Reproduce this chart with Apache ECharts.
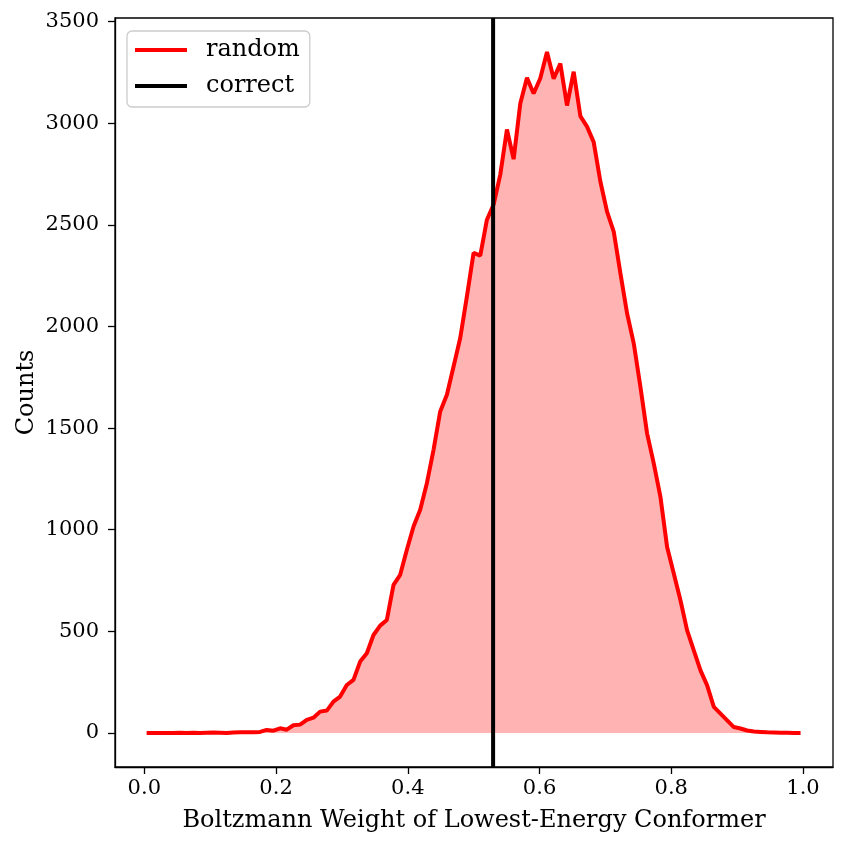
<!DOCTYPE html>
<html>
<head>
<meta charset="utf-8">
<script src="https://cdn.jsdelivr.net/npm/echarts@6/dist/echarts.min.js"></script>
<style>
html,body{margin:0;padding:0;background:#fff;}
#chart{width:846px;height:848px;}
</style>
</head>
<body>
<div id="chart"></div>
<script>
// Histogram bin layout (bin centres)
const binStart = 0.0035;
const binWidth = 0.01013;

// Counts per bin for the "random" series
const randomCounts = [
  0, 0, 0, 0, 0, 1, 0, 1, 0, 1,
  2, 1, 0, 2, 3, 3, 4, 5, 15, 11,
  23, 16, 38, 41, 64, 75, 105, 110, 154, 179,
  236, 261, 351, 392, 482, 528, 556, 729, 778, 901,
  1016, 1098, 1229, 1393, 1582, 1664, 1803, 1943, 2148, 2362,
  2348, 2525, 2600, 2747, 2969, 2823, 3097, 3223, 3146, 3221,
  3350, 3219, 3293, 3087, 3253, 3035, 2983, 2907, 2713, 2565,
  2467, 2262, 2065, 1917, 1703, 1474, 1326, 1162, 915, 784,
  653, 505, 406, 308, 234, 128, 95, 62, 29, 22,
  12, 7, 5, 3, 2, 1, 1, 0, 0
];

// Weight of the correct conformer
const correctWeight = 0.5295;

// Axis extents and ticks
const xMin = -0.0445, xMax = 1.0455;
const yMin = -167.5, yMax = 3517.5;
const xTicks = [0.0, 0.2, 0.4, 0.6, 0.8, 1.0];
const yTicks = [0, 500, 1000, 1500, 2000, 2500, 3000, 3500];

const randomData = randomCounts.map((c, i) => [binStart + i * binWidth, c]);
const correctData = [[correctWeight, yMin], [correctWeight, yMax]];

const FONT = 'DejaVu Serif';
const chart = echarts.init(document.getElementById('chart'), null, {renderer: 'canvas'});

chart.setOption({
  animation: false,
  backgroundColor: '#ffffff',
  textStyle: {fontFamily: FONT},
  grid: {
    left: 115, right: 13, top: 18, bottom: 81,
    show: true, borderColor: '#000', borderWidth: 1.3, backgroundColor: 'transparent'
  },
  legend: {
    orient: 'vertical',
    left: 127, top: 31,
    padding: [7, 10, 9, 8],
    itemGap: 12,
    itemWidth: 52, itemHeight: 4,
    backgroundColor: '#fff',
    borderColor: '#cccccc', borderWidth: 1.3, borderRadius: 5,
    textStyle: {fontFamily: FONT, fontSize: 24, color: '#000', padding: [0, 0, 0, 14]},
    data: [
      {name: 'random', icon: 'rect', itemStyle: {color: '#ff0000'}},
      {name: 'correct', icon: 'rect', itemStyle: {color: '#000000'}}
    ]
  },
  xAxis: {
    type: 'value', min: xMin, max: xMax,
    name: 'Boltzmann Weight of Lowest-Energy Conformer',
    nameLocation: 'middle', nameGap: 42,
    nameTextStyle: {fontFamily: FONT, fontSize: 24, color: '#000'},
    axisLine: {show: true, onZero: false, lineStyle: {color: '#000', width: 1.3}},
    axisTick: {show: true, length: 7, inside: false, customValues: xTicks, lineStyle: {color: '#000', width: 1.3}},
    axisLabel: {
      show: true, margin: 11, customValues: xTicks,
      fontFamily: FONT, fontSize: 21, color: '#000',
      formatter: v => v.toFixed(1)
    },
    splitLine: {show: false}
  },
  yAxis: {
    type: 'value', min: yMin, max: yMax,
    name: 'Counts',
    nameLocation: 'middle', nameGap: 76,
    nameMoveOverlap: false,
    nameTextStyle: {fontFamily: FONT, fontSize: 24, color: '#000'},
    axisLine: {show: true, onZero: false, lineStyle: {color: '#000', width: 1.3}},
    axisTick: {show: true, length: 7, inside: false, customValues: yTicks, lineStyle: {color: '#000', width: 1.3}},
    axisLabel: {
      show: true, margin: 16, customValues: yTicks,
      fontFamily: FONT, fontSize: 21, color: '#000',
      formatter: v => String(v)
    },
    splitLine: {show: false}
  },
  series: [
    {
      name: 'random', type: 'line', data: randomData,
      symbol: 'none', smooth: false,
      lineStyle: {color: '#ff0000', width: 4},
      itemStyle: {color: '#ff0000'},
      areaStyle: {color: '#ffb3b3', opacity: 1, origin: 0},
      z: 2
    },
    {
      name: 'correct', type: 'line', data: correctData,
      symbol: 'none',
      lineStyle: {color: '#000000', width: 4},
      itemStyle: {color: '#000000'},
      z: 3
    }
  ]
});
</script>
</body>
</html>
